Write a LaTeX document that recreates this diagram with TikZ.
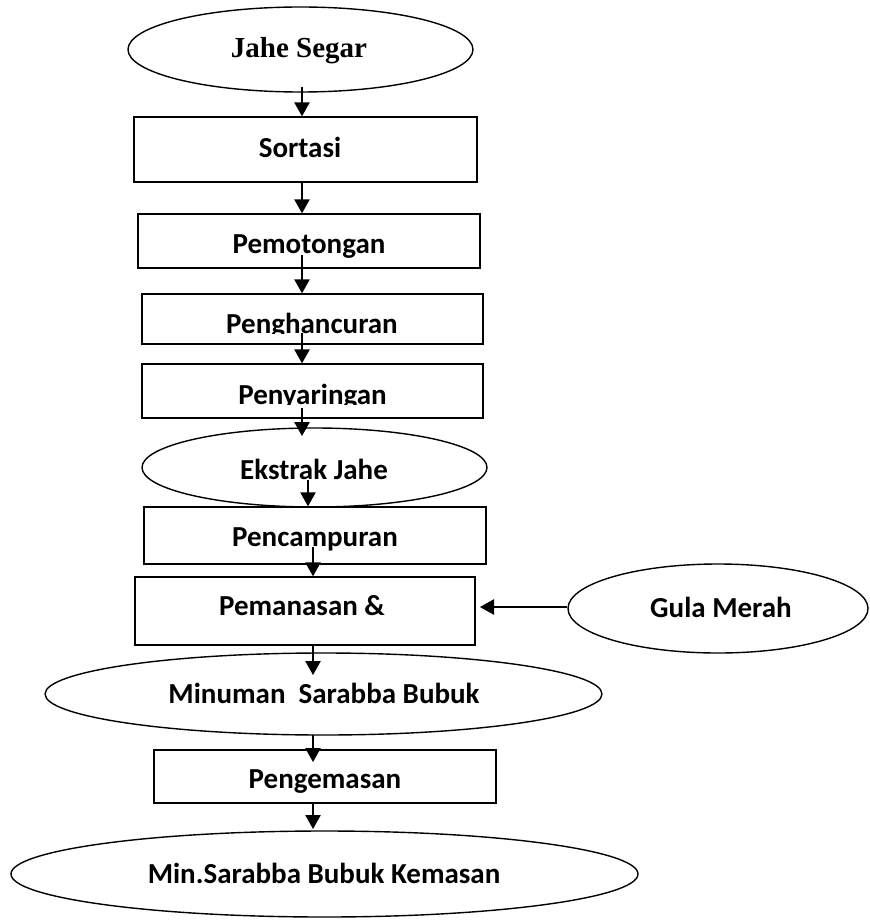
\documentclass[tikz,border=0pt]{standalone}
\usepackage{fontspec}
\setmainfont{Carlito}
\newfontfamily\timesfont{Liberation Serif}
\usetikzlibrary{shapes.geometric,arrows.meta}
\begin{document}
\begin{tikzpicture}[x=0.75pt,y=-0.75pt,
  box/.style={draw,line width=1.05pt,rectangle,inner sep=0pt},
  oval/.style={draw,line width=1.05pt,ellipse,inner sep=0pt},
  lbl/.style={anchor=base,inner sep=0pt,font=\fontsize{21.75}{26}\selectfont\bfseries},
  arr/.style={line width=1.1pt,-{Triangle[width=11.5pt,length=10.5pt]}}]
\useasboundingbox (0,0) rectangle (870,920);
\fill[white] (0,0) rectangle (870,920);

% shapes
\node[oval,minimum width=258.75pt,minimum height=63.75pt] (jahe) at (300.5,49.5) {};
\node[box,minimum width=257.25pt,minimum height=48.75pt] (sortasi) at (305.5,149.5) {};
\node[box,minimum width=256.5pt,minimum height=40.5pt] (potong) at (309,241) {};
\node[box,minimum width=255.75pt,minimum height=37.5pt] (hancur) at (312.5,319) {};
\node[box,minimum width=255.75pt,minimum height=40.5pt] (saring) at (312.5,391) {};
\node[oval,minimum width=258.75pt,minimum height=59.25pt] (ekstrak) at (314.5,467.5) {};
\node[box,minimum width=256.5pt,minimum height=42.75pt] (campur) at (315,535.5) {};
\node[box,minimum width=255pt,minimum height=51pt] (panas) at (305,611) {};
\node[oval,minimum width=225pt,minimum height=66.75pt] (gula) at (718,608.5) {};
\node[oval,minimum width=417.75pt,minimum height=61.5pt] (minuman) at (323.5,694) {};
\node[box,minimum width=256.5pt,minimum height=39.75pt] (kemas) at (325,776.5) {};
\node[oval,minimum width=470.25pt,minimum height=64.5pt] (akhir) at (324.5,874) {};

% texts
\node[lbl,font=\fontsize{21.75}{26}\selectfont\timesfont\bfseries] (tjahe) at (299,58) {Jahe Segar};
\node[lbl] (tsortasi) at (300,157) {Sortasi};
\node[lbl] (tpotong) at (309,253) {Pemotongan};
\begin{scope}
\clip (142,294) rectangle (483,333.5);
\node[lbl] (thancur) at (312,333) {Penghancuran};
\end{scope}
\begin{scope}
\clip (142,364) rectangle (483,404.5);
\node[lbl] (tsaring) at (312.5,404) {Penyaringan};
\end{scope}
\node[lbl] (tekstrak) at (314,479) {Ekstrak Jahe};
\node[lbl] (tcampur) at (315,546) {Pencampuran};
\node[lbl] (tpanas) at (302,615) {Pemanasan \&};
\node[lbl] (tgula) at (721,617) {Gula Merah};
\node[lbl] (tminuman) at (324,703) {Minuman\ \ Sarabba Bubuk};
\node[lbl] (tkemas) at (325,788) {Pengemasan};
\node[lbl] (takhir) at (324,883) {Min.Sarabba Bubuk Kemasan};

% connector points
\coordinate (a1) at (302,87);
\coordinate (a2) at (302,182);
\coordinate (a3) at (302,255);
\coordinate (a4) at (302,333);
\coordinate (a5) at (302,408);
\coordinate (b5) at (302,436);
\coordinate (a6) at (308,480);
\coordinate (a7) at (313,547);
\coordinate (a8) at (313,645);
\coordinate (b8) at (313,675);
\coordinate (a9) at (313,735);
\coordinate (b9) at (313,762);
\coordinate (a10) at (313,803);
\coordinate (b10) at (313,829);
\coordinate (bg) at (480,607);

% connectors
\draw[arr] (a1) -- (a1 |- sortasi.north);
\draw[arr] (a2) -- (a2 |- potong.north);
\draw[arr] (a3) -- (a3 |- hancur.north);
\draw[arr] (a4) -- (a4 |- saring.north);
\draw[arr] (a5) -- (b5);
\draw[arr] (a6) -- (a6 |- campur.north);
\draw[arr] (a7) -- (a7 |- panas.north);
\draw[arr] (a8) -- (b8);
\draw[arr] (a9) -- (b9);
\draw[arr] (a10) -- (b10);
\draw[arr] (gula.west |- bg) -- (bg);
\end{tikzpicture}
\end{document}
